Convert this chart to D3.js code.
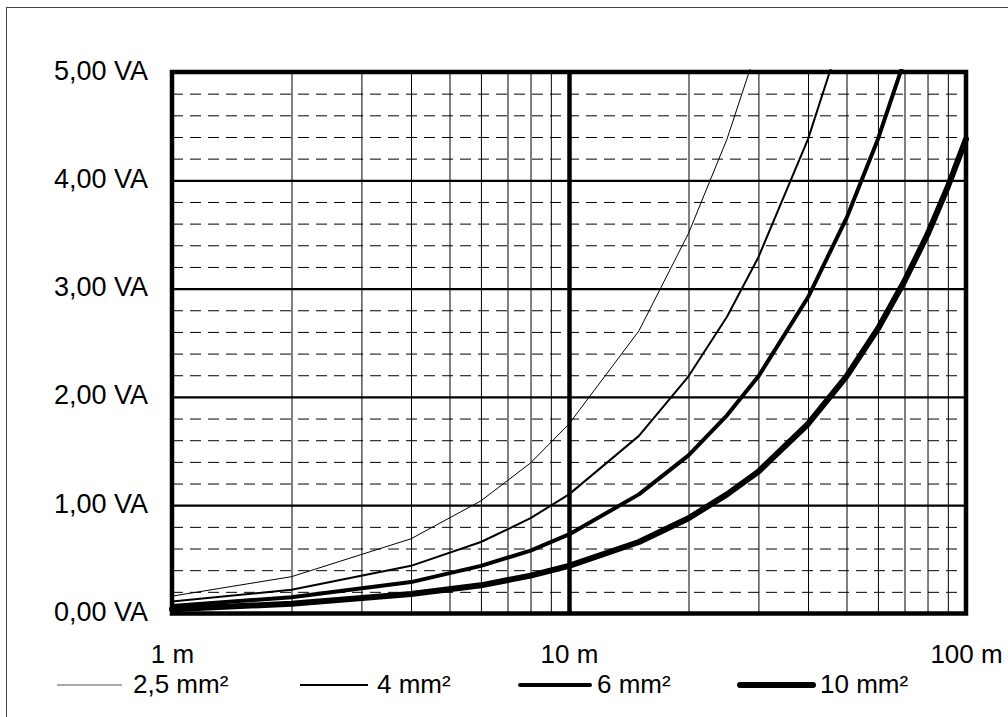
<!DOCTYPE html>
<html>
<head>
<meta charset="utf-8">
<script src="https://cdn.jsdelivr.net/npm/d3@7"></script>
<style>
  html, body { margin: 0; padding: 0; background: #fff; }
  svg { display: block; }
  text { font-family: "Liberation Sans", Arial, sans-serif; fill: #000; }
</style>
</head>
<body>
<svg id="chart" width="1008" height="717"></svg>
<script>
// ---- data ----
const distances = [1, 2, 4, 6, 8, 10, 15, 20, 25, 30, 40, 50, 60, 70, 80, 90, 100];
const seriesNames = ["2,5 mm²", "4 mm²", "6 mm²", "10 mm²"];
const v2_5 = [0.16, 0.34, 0.69, 1.04, 1.39, 1.75, 2.61, 3.51, 4.38, 5.26];
const v4   = [0.11, 0.22, 0.44, 0.66, 0.88, 1.10, 1.64, 2.19, 2.74, 3.29, 4.38, 5.48];
const v6   = [0.07, 0.15, 0.29, 0.44, 0.58, 0.73, 1.10, 1.46, 1.83, 2.19, 2.92, 3.65, 4.38, 5.11];
const v10  = [0.04, 0.09, 0.18, 0.26, 0.35, 0.44, 0.66, 0.88, 1.10, 1.31, 1.75, 2.19, 2.63, 3.07, 3.50, 3.94, 4.38];
const yTickValues = [0, 1, 2, 3, 4, 5];
const yTickLabels = ["0,00 VA", "1,00 VA", "2,00 VA", "3,00 VA", "4,00 VA", "5,00 VA"];
const xTickValues = [1, 10, 100];
const xTickLabels = ["1 m", "10 m", "100 m"];

// ---- layout ----
const L = 172, R = 966, T = 72, B = 613.5;
const svg = d3.select("#chart");

// outer frame
svg.append("rect").attr("x", 6.5).attr("y", 7.5).attr("width", 1010).attr("height", 720)
  .attr("fill", "none").attr("stroke", "#444").attr("stroke-width", 1);

const x = d3.scaleLog().domain([1, 100]).range([L, R]);
const y = d3.scaleLinear().domain([0, 5]).range([B, T]);

// minor dashed horizontal grid
const minorY = d3.range(1, 25).map(i => i * 0.2).filter(v => Math.abs(v - Math.round(v)) > 1e-6);
const gMinY = svg.append("g").attr("transform", `translate(${L},0)`)
  .call(d3.axisLeft(y).tickValues(minorY).tickSize(-(R - L)).tickFormat(""));
gMinY.select(".domain").remove();
gMinY.selectAll("line").attr("stroke", "#000").attr("stroke-width", 1).attr("stroke-dasharray", "11,7");

// minor vertical (log) grid
const minorX = x.ticks().filter(v => ![1, 10, 100].includes(v));
const gMinX = svg.append("g").attr("transform", `translate(0,${B})`)
  .call(d3.axisBottom(x).tickValues(minorX).tickSize(-(B - T)).tickFormat(""));
gMinX.select(".domain").remove();
gMinX.selectAll("line").attr("stroke", "#000").attr("stroke-width", 1);

// major horizontal grid
const gMajY = svg.append("g").attr("transform", `translate(${L},0)`)
  .call(d3.axisLeft(y).tickValues([1, 2, 3, 4]).tickSize(-(R - L)).tickFormat(""));
gMajY.select(".domain").remove();
gMajY.selectAll("line").attr("stroke", "#000").attr("stroke-width", 2.2);

// major vertical grid at 10 m
const gMajX = svg.append("g").attr("transform", `translate(0,${B})`)
  .call(d3.axisBottom(x).tickValues([10]).tickSize(-(B - T)).tickFormat(""));
gMajX.select(".domain").remove();
gMajX.selectAll("line").attr("stroke", "#000").attr("stroke-width", 4.5);

// plot border
svg.append("rect").attr("x", L).attr("y", T).attr("width", R - L).attr("height", B - T)
  .attr("fill", "none").attr("stroke", "#000").attr("stroke-width", 4.5);

// y axis labels
const gY = svg.append("g").attr("transform", `translate(${L},0)`)
  .call(d3.axisLeft(y).tickValues(yTickValues).tickSize(0).tickPadding(24)
    .tickFormat((d, i) => yTickLabels[i]));
gY.select(".domain").remove();
gY.selectAll("text").attr("font-size", 27).attr("dy", 0).attr("y", 7)
  .attr("font-family", '"Liberation Sans", Arial, sans-serif');

// x axis labels
const gX = svg.append("g").attr("transform", `translate(0,${B})`)
  .call(d3.axisBottom(x).tickValues(xTickValues).tickSize(0)
    .tickFormat((d, i) => xTickLabels[i]));
gX.select(".domain").remove();
gX.selectAll("text").attr("font-size", 26).attr("dy", 0).attr("y", 49.5)
  .attr("font-family", '"Liberation Sans", Arial, sans-serif');

// series
svg.append("clipPath").attr("id", "plotclip").append("rect")
  .attr("x", L - 3).attr("y", T - 3).attr("width", R - L + 6).attr("height", B - T + 6);

const widths = [1, 2, 4, 6];
const seriesData = [v2_5, v4, v6, v10].map((vals, k) => ({
  name: seriesNames[k],
  width: widths[k],
  points: vals.map((v, i) => ({ d: distances[i], v }))
}));

const line = d3.line().x(p => x(p.d)).y(p => y(p.v));
svg.append("g").attr("clip-path", "url(#plotclip)")
  .selectAll("path").data(seriesData).join("path")
  .attr("d", s => line(s.points))
  .attr("fill", "none").attr("stroke", "#000")
  .attr("stroke-width", s => s.width)
  .attr("stroke-linejoin", "round").attr("stroke-linecap", "round");

// legend
const legendLines = [[57, 122], [300, 368], [520, 590], [740, 813]];
const legendText = [133, 377, 597, 820];
const gL = svg.append("g");
seriesData.forEach((s, k) => {
  gL.append("line")
    .attr("x1", legendLines[k][0]).attr("x2", legendLines[k][1])
    .attr("y1", 685).attr("y2", 685)
    .attr("stroke", k === 0 ? "#555" : "#000").attr("stroke-width", s.width)
    .attr("stroke-linecap", k >= 2 ? "round" : "butt");
  gL.append("text").attr("x", legendText[k]).attr("y", 693)
    .attr("font-size", 26).text(s.name);
});
</script>
</body>
</html>
